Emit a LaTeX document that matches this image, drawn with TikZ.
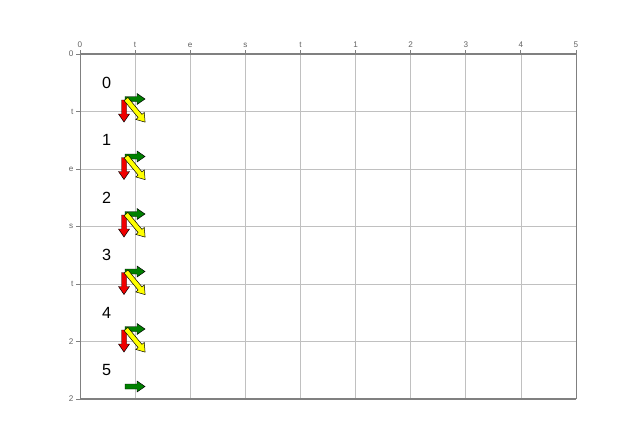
\documentclass[tikz,border=0pt]{standalone}
\usepackage{fontspec}
\setmainfont{Liberation Sans}
\usetikzlibrary{calc}
\definecolor{arrgreen}{RGB}{0,128,0}
\definecolor{arrred}{RGB}{240,0,0}
\definecolor{arryellow}{RGB}{255,255,0}
\definecolor{gridgray}{RGB}{192,192,192}
\definecolor{framegray}{RGB}{128,128,128}
\definecolor{labelgray}{RGB}{100,100,100}

% block arrow: position, angle, length, colour
\newcommand{\blockarrow}[4]{%
  \begin{scope}[shift={#1},rotate=#2]
    \filldraw[draw=black, fill=#4, line width=0.35pt]
      (0,-2.5) -- ({#3-8},-2.5) -- ({#3-8},-5.5) -- (#3,0)
      -- ({#3-8},5.5) -- ({#3-8},2.5) -- (0,2.5) -- cycle;
  \end{scope}}

\tikzset{
  gridline/.style={gridgray, line width=0.4pt},
  frameline/.style={framegray, line width=0.6pt},
  axislabel/.style={font=\fontsize{5.8}{7}\selectfont, text=labelgray, inner sep=1pt},
  rowlabel/.style={font=\fontsize{11.5}{13}\selectfont, inner sep=0pt}
}

\begin{document}
\begin{tikzpicture}[x=0.025cm, y=-0.025cm]
  \useasboundingbox (0,0) rectangle (640,448);
  \fill[white] (0,0) rectangle (640,448);

  % grid
  \foreach \i in {1,...,8}
    \draw[gridline] ({80+55.11*\i},54) -- ({80+55.11*\i},399);
  \foreach \j in {1,...,5}
    \draw[gridline] (80,{54+57.5*\j}) -- (576,{54+57.5*\j});

  % frame
  \draw[frameline] (80,54) -- (80,399);
  \draw[frameline] (576,54) -- (576,399);
  \draw[framegray, line width=1.1pt] (80,54) -- (576,54);
  \draw[framegray, line width=1.1pt] (80,399) -- (576,399);

  % ticks and axis labels
  \foreach \lab [count=\i from 0] in {0,t,e,s,t,1,2,3,4,5} {
    \draw[frameline] ({80+55.11*\i},50) -- ({80+55.11*\i},54);
    \node[axislabel, anchor=south] at ({80+55.11*\i},49) {\lab};
  }
  \foreach \lab [count=\j from 0] in {0,t,e,s,t,2,2} {
    \draw[frameline] (76,{54+57.5*\j}) -- (80,{54+57.5*\j});
    \node[axislabel, anchor=east] at (75,{54+57.5*\j}) {\lab};
  }

  % row labels
  \foreach \j in {0,...,5}
    \node[rowlabel] (row\j) at (106.5,{82.5+57.5*\j}) {\j};

  % arrows
  \foreach \j in {0,...,4} {
    \blockarrow{(125,{99+57.5*\j})}{0}{20}{arrgreen}
    \blockarrow{(124,{100+57.5*\j})}{-90}{22}{arrred}
    \blockarrow{(126,{99+57.5*\j})}{-50.4}{30}{arryellow}
  }
  \blockarrow{(125,{99+57.5*5})}{0}{20}{arrgreen}
\end{tikzpicture}
\end{document}
